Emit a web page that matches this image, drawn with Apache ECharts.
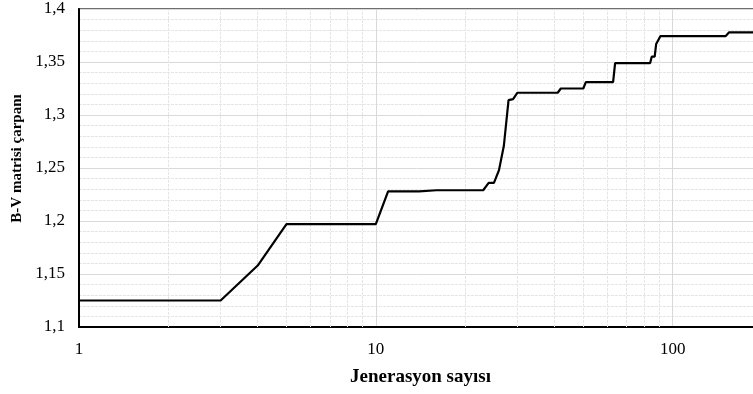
<!DOCTYPE html>
<html>
<head>
<meta charset="utf-8">
<script src="https://cdn.jsdelivr.net/npm/echarts@6/dist/echarts.min.js"></script>
<style>
html,body{margin:0;padding:0;background:#fff;}
#chart{width:753px;height:394px;}
</style>
</head>
<body>
<div id="chart"></div>
<script>
// Generation numbers (x) and B-V matrix multiplier values (y)
const generations = [1, 3, 4, 5, 10, 11, 14, 16, 23, 24, 25, 26, 27, 28, 29, 30, 41, 42, 50, 51, 63, 64, 84, 85, 87, 88, 89, 91, 151, 155, 200];
const multiplier  = [1.125, 1.125, 1.158, 1.197, 1.197, 1.228, 1.228, 1.229, 1.229, 1.236, 1.236, 1.248, 1.271, 1.314, 1.315, 1.321, 1.321, 1.325, 1.325, 1.331, 1.331, 1.349, 1.349, 1.355, 1.355, 1.367, 1.368, 1.3745, 1.3745, 1.378, 1.378];
// Minor vertical gridline positions on the log axis
const minorXTicks = [2, 3, 4, 5, 6, 7, 8, 9, 20, 30, 40, 50, 60, 70, 80, 90];
const xTitle = 'Jenerasyon sayısı';
const yTitle = 'B-V matrisi çarpanı';

const seriesData = generations.map((g, i) => [g, multiplier[i]]);
const FONT = '"Liberation Serif", "Times New Roman", serif';

const chart = echarts.init(document.getElementById('chart'));
chart.setOption({
  animation: false,
  backgroundColor: '#ffffff',
  grid: {
    left: 79, top: 9, width: 683, bottom: 67,
    containLabel: false,
    outerBoundsMode: 'none',
    show: true, borderColor: '#404040', borderWidth: 1.5, backgroundColor: 'transparent'
  },
  xAxis: {
    type: 'log',
    logBase: 10,
    min: 1,
    max: 200,
    name: xTitle,
    nameLocation: 'middle',
    nameGap: 41,
    nameTextStyle: { fontFamily: FONT, fontSize: 19, fontWeight: 'bold', color: '#000' },
    axisLine: { show: true, onZero: false, lineStyle: { color: '#000', width: 2 } },
    axisTick: { show: false },
    axisLabel: {
      fontFamily: FONT, fontSize: 17, color: '#000', margin: 14,
      formatter: function (v) {
        const l = Math.log10(v);
        return Math.abs(l - Math.round(l)) < 1e-6 ? String(Math.round(v)) : '';
      }
    },
    splitLine: { show: true, lineStyle: { color: '#d9d9d9', width: 1 } }
  },
  yAxis: {
    type: 'value',
    min: 1.1,
    max: 1.4,
    interval: 0.05,
    name: yTitle,
    nameLocation: 'middle',
    nameGap: 50,
    nameTextStyle: { fontFamily: FONT, fontSize: 15, fontWeight: 'bold', color: '#000', padding: [0, 0, 0, 19] },
    axisLine: { show: true, lineStyle: { color: '#000', width: 2 } },
    axisTick: { show: false },
    axisLabel: {
      fontFamily: FONT, fontSize: 17, color: '#000', margin: 14,
      formatter: function (v) { return String(parseFloat(v.toFixed(2))).replace('.', ','); }
    },
    splitLine: { show: true, lineStyle: { color: '#d9d9d9', width: 1 } },
    minorTick: { show: false, splitNumber: 5 },
    minorSplitLine: { show: true, lineStyle: { color: '#e6e6e6', width: 1, type: [3, 1] } }
  },
  series: [{
    type: 'line',
    data: seriesData,
    symbol: 'none',
    smooth: false,
    clip: true,
    lineStyle: { color: '#000', width: 2.2 },
    z: 5,
    markLine: {
      silent: true,
      symbol: ['none', 'none'],
      label: { show: false },
      lineStyle: { color: '#e6e6e6', width: 1, type: [3, 1] },
      emphasis: { disabled: true },
      data: minorXTicks.map(v => ({ xAxis: v }))
    }
  }]
});
</script>
</body>
</html>
